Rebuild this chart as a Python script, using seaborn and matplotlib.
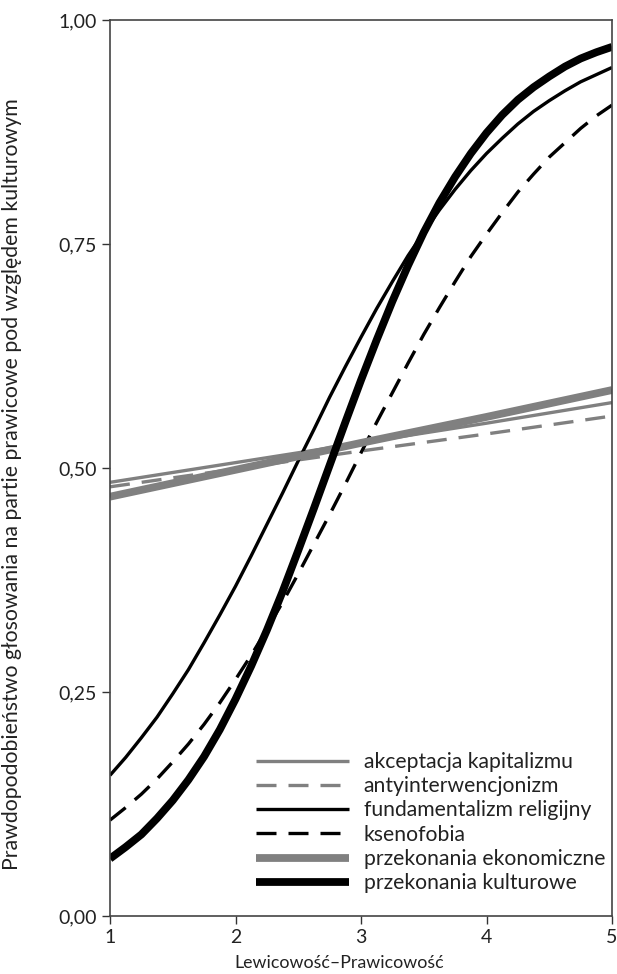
import numpy as np
import pandas as pd
import matplotlib
matplotlib.use("Agg")
import matplotlib.pyplot as plt
import seaborn as sns

# x grid for curved series (Lewicowość–Prawicowość)
x_curve = [1.0, 1.125, 1.25, 1.375, 1.5, 1.625, 1.75, 1.875, 2.0, 2.125, 2.25, 2.375, 2.5, 2.625,
           2.75, 2.875, 3.0, 3.125, 3.25, 3.375, 3.5, 3.625, 3.75, 3.875, 4.0, 4.125, 4.25, 4.375,
           4.5, 4.625, 4.75, 4.875, 5.0]
fundamentalizm = [0.157, 0.177, 0.199, 0.222, 0.248, 0.275, 0.305, 0.336, 0.368, 0.402, 0.437, 0.472,
                  0.508, 0.543, 0.579, 0.613, 0.646, 0.678, 0.708, 0.737, 0.763, 0.788, 0.811, 0.832,
                  0.851, 0.868, 0.884, 0.898, 0.910, 0.921, 0.931, 0.939, 0.947]
ksenofobia = [0.107, 0.121, 0.136, 0.153, 0.172, 0.192, 0.214, 0.238, 0.264, 0.291, 0.320, 0.350,
              0.382, 0.415, 0.448, 0.482, 0.517, 0.551, 0.584, 0.617, 0.649, 0.679, 0.708, 0.736,
              0.761, 0.785, 0.808, 0.828, 0.847, 0.863, 0.879, 0.893, 0.905]
kulturowe = [0.064, 0.077, 0.091, 0.109, 0.129, 0.152, 0.178, 0.208, 0.242, 0.279, 0.319, 0.362,
             0.408, 0.455, 0.503, 0.551, 0.598, 0.643, 0.686, 0.726, 0.763, 0.796, 0.825, 0.851,
             0.874, 0.894, 0.911, 0.925, 0.937, 0.948, 0.957, 0.964, 0.970]

# x grid for nearly straight series
x_lin = [1, 2, 3, 4, 5]
kapitalizm = [0.484, 0.506, 0.528, 0.550, 0.573]
antyinterwencjonizm = [0.479, 0.499, 0.519, 0.538, 0.558]
ekonomiczne = [0.468, 0.498, 0.528, 0.557, 0.587]

labels = ["akceptacja kapitalizmu", "antyinterwencjonizm", "fundamentalizm religijny",
          "ksenofobia", "przekonania ekonomiczne", "przekonania kulturowe"]
y_ticks = [0.0, 0.25, 0.5, 0.75, 1.0]
y_ticklabels = ["0,00", "0,25", "0,50", "0,75", "1,00"]
x_ticks = [1, 2, 3, 4, 5]

sns.set_theme(style="white")
plt.rcParams['font.family'] = ['Lato', 'DejaVu Sans']

fig = plt.figure(figsize=(6.17, 9.74), dpi=100)
ax = fig.add_axes([110/617, 1 - 916/974, (612 - 110)/617, (916 - 20)/974])

gray = "#808080"
black = "#000000"
thin, thick = 2.4, 5.6
dash = (6, 3.6)
series = [
    (x_lin, kapitalizm, labels[0], gray, thin, None),
    (x_lin, antyinterwencjonizm, labels[1], gray, thin, dash),
    (x_curve, fundamentalizm, labels[2], black, thin, None),
    (x_curve, ksenofobia, labels[3], black, thin, dash),
    (x_lin, ekonomiczne, labels[4], gray, thick, None),
    (x_curve, kulturowe, labels[5], black, thick, None),
]
for xs, ys, lab, col, lw, ds in series:
    df = pd.DataFrame({"x": xs, "y": ys})
    sns.lineplot(data=df, x="x", y="y", ax=ax, color=col, linewidth=lw, label=lab)
    ln = ax.lines[-1]
    ln.set_solid_capstyle("butt")
    if ds is not None:
        ln.set_dashes(ds)
        ln.set_dash_capstyle("butt")

ax.set_xlim(1, 5)
ax.set_ylim(0, 1)
ax.set_xticks(x_ticks)
ax.set_xticklabels([str(t) for t in x_ticks])
ax.set_yticks(y_ticks)
ax.set_yticklabels(y_ticklabels)
ax.tick_params(axis="both", direction="out", length=6, width=1, color="#333333",
               labelsize=14, bottom=True, left=True, labelcolor="#222222")
for s in ax.spines.values():
    s.set_visible(True)
    s.set_color("#444444")
    s.set_linewidth(1.2)

ax.set_xlabel("Lewicowość–Prawicowość", fontsize=12.8, color="#222222")
ax.xaxis.set_label_coords((339 - 110) / 502, -0.044)
ax.set_ylabel("Prawdopodobieństwo głosowania na partie prawicowe pod względem kulturowym",
              fontsize=15.3, color="#222222")
ax.yaxis.set_label_coords(-(110 - 22) / 502, 0.482)

leg = ax.legend(loc="upper left", bbox_to_anchor=(256/617, 1 - 752/974), bbox_transform=fig.transFigure,
                frameon=False, fontsize=15.2, handlelength=4.4, handletextpad=0.7,
                labelspacing=0.2, borderaxespad=0, borderpad=0)
for t in leg.get_texts():
    t.set_color("#222222")

fig.savefig("out.png", dpi=100)
